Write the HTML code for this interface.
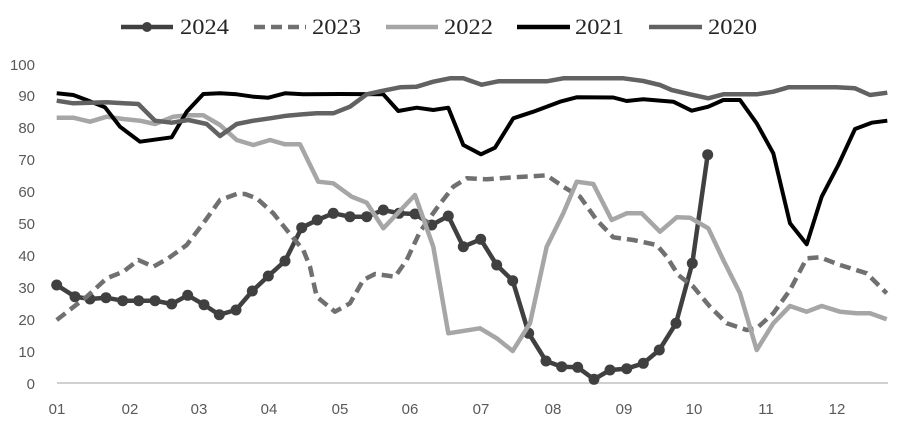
<!DOCTYPE html>
<html>
<head>
<meta charset="utf-8">
<style>
html,body{margin:0;padding:0;background:#fff;}
svg{display:block;}
.yl{font-family:"Liberation Sans",sans-serif;font-size:15px;fill:#595959;text-anchor:end;}
.xl{font-family:"Liberation Sans",sans-serif;font-size:15px;fill:#595959;text-anchor:middle;}
.lg{font-family:"Liberation Serif",serif;font-size:22px;fill:#262626;}
</style>
</head>
<body>
<svg width="900" height="421" viewBox="0 0 900 421" xmlns="http://www.w3.org/2000/svg">
<rect width="900" height="421" fill="#fff"/>

<!-- legend -->
<line x1="121" y1="27" x2="173" y2="27" stroke="#404040" stroke-width="4.5"/>
<circle cx="147" cy="27" r="5" fill="#404040"/>
<text class="lg" x="180" y="34" textLength="49" lengthAdjust="spacingAndGlyphs">2024</text>
<line x1="254" y1="27" x2="306" y2="27" stroke="#707070" stroke-width="4.5" stroke-dasharray="11,6"/>
<text class="lg" x="312" y="34" textLength="49" lengthAdjust="spacingAndGlyphs">2023</text>
<line x1="386" y1="27" x2="438" y2="27" stroke="#a6a6a6" stroke-width="4.5"/>
<text class="lg" x="444" y="34" textLength="49" lengthAdjust="spacingAndGlyphs">2022</text>
<line x1="517" y1="27" x2="570" y2="27" stroke="#000" stroke-width="4.5"/>
<text class="lg" x="575" y="34" textLength="49" lengthAdjust="spacingAndGlyphs">2021</text>
<line x1="649" y1="27" x2="702" y2="27" stroke="#626262" stroke-width="4.5"/>
<text class="lg" x="708" y="34" textLength="49" lengthAdjust="spacingAndGlyphs">2020</text>

<!-- y labels -->
<text class="yl" x="35" y="70">100</text>
<text class="yl" x="35" y="101">90</text>
<text class="yl" x="35" y="133">80</text>
<text class="yl" x="35" y="165">70</text>
<text class="yl" x="35" y="197">60</text>
<text class="yl" x="35" y="229">50</text>
<text class="yl" x="35" y="261">40</text>
<text class="yl" x="35" y="293">30</text>
<text class="yl" x="35" y="325">20</text>
<text class="yl" x="35" y="357">10</text>
<text class="yl" x="35" y="389">0</text>

<!-- axis -->
<line x1="57" y1="383" x2="888" y2="383" stroke="#d0d0d0" stroke-width="2"/>

<!-- x labels -->
<text class="xl" x="57" y="414">01</text>
<text class="xl" x="130" y="414">02</text>
<text class="xl" x="199" y="414">03</text>
<text class="xl" x="269" y="414">04</text>
<text class="xl" x="340" y="414">05</text>
<text class="xl" x="410" y="414">06</text>
<text class="xl" x="481" y="414">07</text>
<text class="xl" x="553" y="414">08</text>
<text class="xl" x="624" y="414">09</text>
<text class="xl" x="694" y="414">10</text>
<text class="xl" x="766" y="414">11</text>
<text class="xl" x="837" y="414">12</text>

<!-- 2024 -->
<g fill="#404040">
<polyline fill="none" stroke="#404040" stroke-width="4.5" stroke-linejoin="round" points="56.7,285 75,296.7 90,299 106,297.7 122.7,300.7 138.7,300.7 155,300.7 171.7,304 187.7,295.3 204,304.7 219.3,314.7 236,310 252.3,291 268.3,276 285,261 301.7,227.7 317.3,220 333.3,213.3 350,216.7 366.7,216.7 383.3,210 399,213.3 415,214 431.7,225 448.3,216 463.3,246.7 480.7,239.3 496.7,265 512.7,280.7 528.7,333.3 546,361 561.7,366.7 577.7,367.3 594,379.3 610,370 626.7,368.7 643.3,363.3 659.3,350 676,323.3 692.3,263.3 707.7,154.7"/>
<circle cx="56.7" cy="285" r="5.5"/><circle cx="75" cy="296.7" r="5.5"/><circle cx="90" cy="299" r="5.5"/><circle cx="106" cy="297.7" r="5.5"/><circle cx="122.7" cy="300.7" r="5.5"/><circle cx="138.7" cy="300.7" r="5.5"/><circle cx="155" cy="300.7" r="5.5"/><circle cx="171.7" cy="304" r="5.5"/><circle cx="187.7" cy="295.3" r="5.5"/><circle cx="204" cy="304.7" r="5.5"/><circle cx="219.3" cy="314.7" r="5.5"/><circle cx="236" cy="310" r="5.5"/><circle cx="252.3" cy="291" r="5.5"/><circle cx="268.3" cy="276" r="5.5"/><circle cx="285" cy="261" r="5.5"/><circle cx="301.7" cy="227.7" r="5.5"/><circle cx="317.3" cy="220" r="5.5"/><circle cx="333.3" cy="213.3" r="5.5"/><circle cx="350" cy="216.7" r="5.5"/><circle cx="366.7" cy="216.7" r="5.5"/><circle cx="383.3" cy="210" r="5.5"/><circle cx="399" cy="213.3" r="5.5"/><circle cx="415" cy="214" r="5.5"/><circle cx="431.7" cy="225" r="5.5"/><circle cx="448.3" cy="216" r="5.5"/><circle cx="463.3" cy="246.7" r="5.5"/><circle cx="480.7" cy="239.3" r="5.5"/><circle cx="496.7" cy="265" r="5.5"/><circle cx="512.7" cy="280.7" r="5.5"/><circle cx="528.7" cy="333.3" r="5.5"/><circle cx="546" cy="361" r="5.5"/><circle cx="561.7" cy="366.7" r="5.5"/><circle cx="577.7" cy="367.3" r="5.5"/><circle cx="594" cy="379.3" r="5.5"/><circle cx="610" cy="370" r="5.5"/><circle cx="626.7" cy="368.7" r="5.5"/><circle cx="643.3" cy="363.3" r="5.5"/><circle cx="659.3" cy="350" r="5.5"/><circle cx="676" cy="323.3" r="5.5"/><circle cx="692.3" cy="263.3" r="5.5"/><circle cx="707.7" cy="154.7" r="5.5"/>
</g>

<!-- 2023 dashed -->
<polyline fill="none" stroke="#707070" stroke-width="4.5" stroke-dasharray="11,6" stroke-linejoin="round" points="56.7,320 86.7,296.7 106.7,278.3 123.3,271.7 138.3,260 153.3,266.7 168.3,258.3 186.7,245 203.3,223.3 220,200 236.7,194 245,194 256.7,198.3 273.3,213.3 286.7,230 303.3,250 310,266.7 316.7,296.7 335,311.7 350,303.3 363.3,280 375,274 395,276.7 406.7,260 420,231.7 436.7,208.3 453.3,186.7 466.7,178.3 486.7,179.3 513.3,177.3 536.7,176 546.7,175.3 563.3,186.7 580,196.7 596.7,220 613.3,237.3 633.3,240 656.7,245 666.7,256.7 678.3,275 693.3,286.7 710,306.7 726.7,323.3 746.7,330 756.7,328.3 773.3,313.3 790,290 806.7,258.3 820,257.3 840,265 866.7,273.3 886.7,293.3"/>

<!-- 2022 -->
<polyline fill="none" stroke="#a6a6a6" stroke-width="4.5" stroke-linejoin="round" points="56.7,117.7 73.3,117.7 90,121.7 106.7,116.7 123.3,119 140,120.7 155,124 173.3,116.7 186.7,115.3 203.3,115.3 220,125 236.7,140 253.3,145 270,140 285,144.3 300,144.3 318.3,181.7 333.3,183.3 351.7,196.7 366.7,202.7 383.3,228.3 415,195 433.3,246.7 448.3,333.3 480,328.3 496.7,338.3 512.7,351 530,323.3 546.7,246.7 563.3,213.3 576.7,181.7 593.3,184 611.7,220 626.7,213.3 641.7,213.3 660,231.7 676.7,217.3 690,217.7 708.3,228.3 723.3,260 740,293.3 756.7,350 773.3,323.3 790,306 806.7,311.7 821.7,306 840,311.7 856.7,313.3 870,313.3 886.7,319.3"/>

<!-- 2021 -->
<polyline fill="none" stroke="#000" stroke-width="4" stroke-linejoin="round" points="56.7,93.3 73.3,95 86.7,100 105,107.3 120,126.7 140,141.7 171.7,137.3 186.7,111.7 203.3,94 220,93.3 236.7,94.3 253.3,96.7 268.3,97.7 285,93.3 303.3,94.3 340,94 383.3,94.3 398.3,111 416.7,107.7 433.3,110 448.3,107.7 463.3,145 481,154.3 495,147.7 513.3,118.3 533.3,111.7 560,101.7 576.7,97.3 613.3,97.5 626.7,101 643.3,99.3 673.3,101.7 691.7,110.7 708.3,106.7 723.3,100 740,100 756.7,123.3 773.3,153.3 790,223.3 806.7,244.3 821.7,196.7 838.3,165 855,129 871.7,122.7 887.3,120.7"/>

<!-- 2020 -->
<polyline fill="none" stroke="#626262" stroke-width="4.5" stroke-linejoin="round" points="56.7,100.7 73.3,103.3 106.7,102.3 138.3,104 155,120.7 171.7,122.7 188.3,120 206.7,124 220,136 236.7,124 253.3,120.7 270,118.3 286.7,115.7 303.3,114.3 316.7,113.3 333.3,113.3 350,106.7 366.7,94.3 383.3,90.7 400,87.3 416.7,86.7 433.3,81.7 450,78.3 463.3,78.3 481.7,84.7 498.3,81.3 546.7,81.3 563.3,78.3 623.3,78.3 643.3,81 660,85 671.7,90 690,94.3 708.3,98.3 723.3,94.3 756.7,94.3 773.3,91.7 788.3,87.3 836.7,87.3 855,88.3 870,95 887.3,92.7"/>
</svg>
</body>
</html>
